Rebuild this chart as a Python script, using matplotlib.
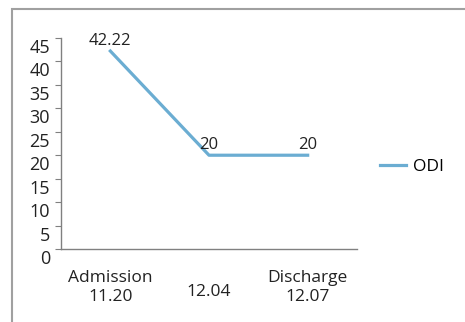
import numpy as np
import matplotlib.pyplot as plt
import matplotlib.patches as pat
from matplotlib.transforms import ScaledTranslation

# chart data
categories = ["Admission\n11.20", "12.04", "Discharge\n12.07"]
odi_values = [42.22, 20, 20]
value_labels = ["42.22", "20", "20"]
y_ticks = [0, 5, 10, 15, 20, 25, 30, 35, 40, 45]

plt.rcParams['font.family'] = ['Open Sans', 'DejaVu Sans']

fig = plt.figure(figsize=(4.65, 3.22), dpi=100)
W, H = 465, 322

# outer frame (runs off right and bottom edge)
frame = pat.Rectangle((12 / W, -0.1), 1.2, (322 - 9) / H + 0.1, transform=fig.transFigure,
                      fill=False, edgecolor="#a0a0a0", linewidth=1.5)
fig.patches.append(frame)

ax = fig.add_axes([61 / W, (322 - 249) / H, (357 - 61) / W, (249 - 38) / H])
x = np.arange(len(categories))
line, = ax.plot(x, odi_values, color="#6badd2", linewidth=2.3, label="ODI")

ax.set_xlim(-0.5, 2.5)
ax.set_ylim(0, 45)
ax.set_yticks(y_ticks)
ax.set_xticks(x)
ax.set_xticklabels(categories, fontsize=12.5, color="#222222", linespacing=1.3)
ax.set_yticklabels([str(v) for v in y_ticks], fontsize=13, color="#222222")
ax.tick_params(axis="x", length=0, pad=15)
ax.tick_params(axis="y", length=4, direction="out", pad=4, color="#808080")

# y labels sit a little low in the original
dpi = fig.dpi_scale_trans
for lab in ax.get_yticklabels():
    lab.set_transform(lab.get_transform() + ScaledTranslation(0, -8 / 100, dpi))
# middle label is a bit lower
xl = ax.get_xticklabels()
xl[1].set_transform(xl[1].get_transform() + ScaledTranslation(0, -14 / 100, dpi))

for s in ["top", "right"]:
    ax.spines[s].set_visible(False)
for s in ["left", "bottom"]:
    ax.spines[s].set_color("#808080")
    ax.spines[s].set_linewidth(1.0)

for xi, v, t in zip(x, odi_values, value_labels):
    ax.text(xi, v + 0.4, t, ha="center", va="bottom", fontsize=12, color="#222222")

fig.legend(handles=[line], loc="center left", bbox_to_anchor=(364 / W, 1 - 167 / H),
           frameon=False, fontsize=12.5, handlelength=1.5, handletextpad=0.4)

fig.savefig("out.png", dpi=100)
